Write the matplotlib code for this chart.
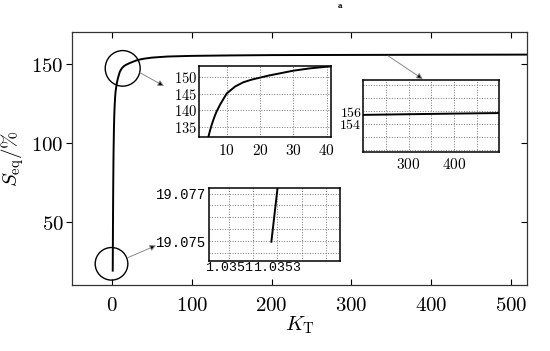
import numpy as np
import matplotlib
matplotlib.use('Agg')
import matplotlib.pyplot as plt
from matplotlib.patches import Ellipse
from matplotlib.ticker import FuncFormatter, FixedLocator

plt.rcParams['mathtext.fontset'] = 'cm'

# Curva
K_T = [1.035275, 1.0353, 1.1, 1.3, 1.6, 2.0, 2.5, 3.0, 3.5, 4.0, 4.5, 5.0,
       5.5, 6.0, 6.5, 7.0, 8.0, 9.0, 10.0, 12.5, 15.0, 17.5, 20.0, 22.5,
       25.0, 27.5, 30.0, 35.0, 40.0, 50.0, 70.0, 100.0, 150.0, 200.0,
       300.0, 400.0, 520.0]
S_eq = [19.07497, 19.0772, 25.0, 45.0, 70.0, 92.0, 108.0, 118.0, 124.0,
        128.5, 131.8, 133.8, 135.5, 137.0, 138.4, 139.6, 141.6, 143.3,
        145.0, 147.1, 148.4, 149.2, 149.8, 150.4, 150.9, 151.4, 151.9,
        152.6, 153.1, 153.8, 154.5, 154.9, 155.2, 155.4, 155.5, 155.6,
        155.7]

main_xticks = [0, 100, 200, 300, 400, 500]
main_yticks = [50, 100, 150]
in1_xticks = [10, 20, 30, 40]
in1_yticks = [135, 140, 145, 150]
in2_xlabels = [300, 400]
in2_xgrid = [250, 350, 450]
in2_ylabels = [154, 156]
in2_ygrid = [150, 152, 158, 160]
in3_xlabels = [1.0351, 1.0353]
in3_xgrid = [1.0352, 1.0354, 1.0355]
in3_ylabels = [19.075, 19.077]
in3_ygrid = [19.0745, 19.0755, 19.076, 19.0765]

W, H = 550, 351
fig = plt.figure(figsize=(5.5, 3.51), dpi=100)

def fx(px):
    return px / W

def fy(py):
    return 1 - py / H

mt = FuncFormatter(lambda v, p: f'${v:g}$')

# Ejes principales
ax = fig.add_axes([fx(72), fy(285), fx(527) - fx(72), fy(32) - fy(285)])
ax.plot(K_T, S_eq, color='black', lw=1.4)
ax.set_xlim(-50, 520)
ax.set_ylim(10, 170)
ax.set_xticks(main_xticks)
ax.set_yticks(main_yticks)
ax.xaxis.set_major_formatter(mt)
ax.yaxis.set_major_formatter(mt)
ax.tick_params(axis='x', direction='in', top=True, length=4, labelsize=15, pad=7)
ax.tick_params(axis='y', direction='out', length=4, labelsize=15, pad=2)
ax.tick_params(axis='y', which='major', right=True)
for t in ax.yaxis.get_major_ticks():
    t.tick2line.set_marker(matplotlib.lines.TICKLEFT)
for sp in ax.spines.values():
    sp.set_linewidth(0.9)
    sp.set_color('#333333')
ax.set_ylabel(r'$S_{\rm eq}/\%$', fontsize=15, labelpad=4)
ax.set_xlabel(r'$K_{\rm T}$', fontsize=15, labelpad=0)

# Círculos de detalle
ax.add_patch(Ellipse((13.5, 147.0), 43.8, 22.5, fill=False, ec='black', lw=1.0))
ax.add_patch(Ellipse((-0.5, 23.4), 40.9, 20.6, fill=False, ec='black', lw=1.0))

fig.text(fx(340), fy(6), 'a', fontsize=5, fontweight='bold', ha='center', va='center',
         family='DejaVu Serif')

def style_inset(a):
    for sp in a.spines.values():
        sp.set_linewidth(1.1)
        sp.set_color('black')
    a.grid(True, which='both', ls=':', color='#777777', lw=0.7)
    a.tick_params(which='both', length=0)
    a.set_axisbelow(True)

# Recuadro 1
a1 = fig.add_axes([fx(199.3), fy(137.3), fx(330.7) - fx(199.3), fy(65.7) - fy(137.3)])
a1.plot(K_T, S_eq, color='black', lw=1.4)
a1.set_xlim(1.8, 41.2)
a1.set_ylim(131.8, 153.4)
a1.set_xticks(in1_xticks)
a1.set_yticks(in1_yticks)
a1.xaxis.set_major_formatter(mt)
a1.yaxis.set_major_formatter(mt)
style_inset(a1)
a1.tick_params(axis='x', labelsize=11, pad=4)
a1.tick_params(axis='y', labelsize=10.5, pad=1.5)

# Recuadro 2
a2 = fig.add_axes([fx(363.3), fy(151.7), fx(499.3) - fx(363.3), fy(80) - fy(151.7)])
a2.plot(K_T, S_eq, color='black', lw=1.4)
a2.set_xlim(200, 500)
a2.set_ylim(149.7, 160.8)
a2.set_xticks(in2_xlabels)
a2.xaxis.set_minor_locator(FixedLocator(in2_xgrid))
a2.set_yticks(in2_ylabels)
a2.yaxis.set_minor_locator(FixedLocator(in2_ygrid))
a2.xaxis.set_major_formatter(mt)
a2.yaxis.set_major_formatter(mt)
style_inset(a2)
a2.tick_params(axis='x', labelsize=11, pad=4)
a2.tick_params(axis='y', labelsize=10, pad=1)

# Recuadro 3
a3 = fig.add_axes([fx(209.3), fy(261), fx(340) - fx(209.3), fy(188.3) - fy(261)])
a3.plot(K_T, S_eq, color='black', lw=1.4)
a3.set_xlim(1.03502, 1.035557)
a3.set_ylim(19.07416, 19.07722)
a3.set_xticks(in3_xlabels)
a3.xaxis.set_minor_locator(FixedLocator(in3_xgrid))
a3.set_yticks(in3_ylabels)
a3.yaxis.set_minor_locator(FixedLocator(in3_ygrid))
a3.xaxis.set_major_formatter(FuncFormatter(lambda v, p: f'{v:.4f}'))
a3.yaxis.set_major_formatter(FuncFormatter(lambda v, p: f'{v:.3f}'))
style_inset(a3)
for lab in a3.get_xticklabels() + a3.get_yticklabels():
    lab.set_family('Liberation Mono')
a3.tick_params(axis='x', labelsize=9.5, pad=1)
a3.tick_params(axis='y', labelsize=10, pad=2)

# Flechas
arrows = [((140, 72.7), (164, 86)), ((388.3, 56), (422.7, 79)), ((127.7, 257.7), (156, 245.5))]
for (x0, y0), (x1, y1) in arrows:
    fig.add_artist(matplotlib.patches.FancyArrowPatch(
        (fx(x0), fy(y0)), (fx(x1), fy(y1)), transform=fig.transFigure,
        arrowstyle='-|>,head_length=3.5,head_width=1.8', mutation_scale=1,
        ec='#888888', fc='black', lw=0.7, shrinkA=0, shrinkB=0))

fig.savefig('out.png', dpi=100)
